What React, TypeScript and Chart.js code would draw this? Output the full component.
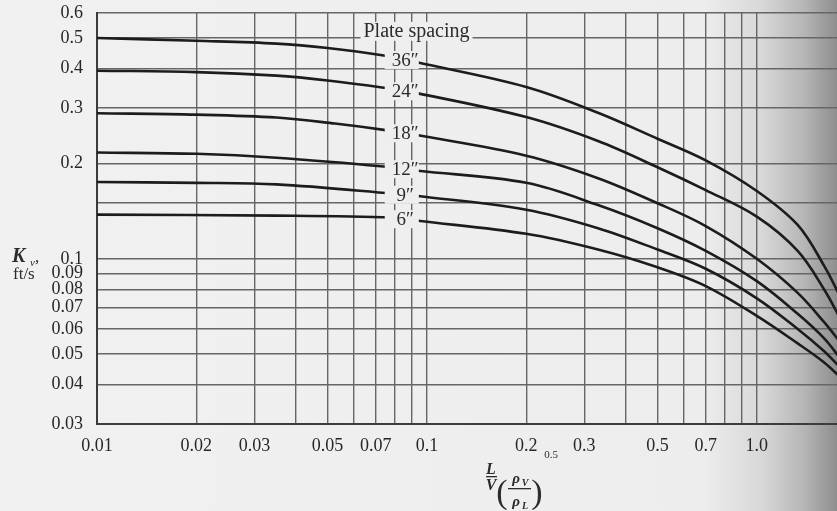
import React, { useEffect, useRef } from 'react';
import { Chart, registerables } from 'chart.js';

Chart.register(...registerables);

// ---- Axis ticks ----
const xTickValues = [0.01, 0.02, 0.03, 0.04, 0.05, 0.06, 0.07, 0.08, 0.09, 0.1, 0.2, 0.3, 0.4, 0.5, 0.6, 0.7, 0.8, 0.9, 1.0];
const xTickLabels = ['0.01', '0.02', '0.03', '', '0.05', '', '0.07', '', '', '0.1', '0.2', '0.3', '', '0.5', '', '0.7', '', '', '1.0'];
const yTickValues = [0.03, 0.04, 0.05, 0.06, 0.07, 0.08, 0.09, 0.1, 0.15, 0.2, 0.3, 0.4, 0.5, 0.6];
const yTickLabels = ['0.03', '0.04', '0.05', '0.06', '0.07', '0.08', '0.09', '0.1', '', '0.2', '0.3', '0.4', '0.5', '0.6'];

// ---- Curves: flow parameter L/V (rhoV/rhoL)^0.5 vs K_v (ft/s) ----
const spacingLabels = ['36″', '24″', '18″', '12″', '9″', '6″'];

const flow36 = [0.01, 0.02, 0.035, 0.05, 0.074, 0.094, 0.2, 0.33, 0.5, 0.7, 1.0, 1.33, 1.6, 1.8];
const kv36 = [0.50, 0.49, 0.48, 0.465, 0.44, 0.418, 0.35, 0.29, 0.24, 0.205, 0.164, 0.128, 0.095, 0.075];

const flow24 = [0.01, 0.02, 0.035, 0.05, 0.074, 0.094, 0.2, 0.33, 0.5, 0.7, 1.0, 1.33, 1.6, 1.8];
const kv24 = [0.394, 0.39, 0.38, 0.367, 0.348, 0.334, 0.281, 0.236, 0.195, 0.165, 0.136, 0.106, 0.08, 0.064];

const flow18 = [0.01, 0.02, 0.035, 0.0526, 0.074, 0.094, 0.2, 0.33, 0.5, 0.7, 1.0, 1.33, 1.6, 1.8];
const kv18 = [0.289, 0.286, 0.28, 0.268, 0.256, 0.246, 0.212, 0.18, 0.15, 0.127, 0.1, 0.078, 0.063, 0.054];

const flow12 = [0.01, 0.02, 0.035, 0.074, 0.094, 0.2, 0.33, 0.5, 0.7, 1.0, 1.33, 1.6, 1.8];
const kv12 = [0.217, 0.215, 0.209, 0.196, 0.19, 0.174, 0.148, 0.125, 0.106, 0.085, 0.067, 0.056, 0.048];

const flow9 = [0.01, 0.02, 0.035, 0.0785, 0.094, 0.2, 0.33, 0.5, 0.7, 1.0, 1.33, 1.6, 1.8];
const kv9 = [0.175, 0.174, 0.172, 0.161, 0.158, 0.143, 0.125, 0.107, 0.093, 0.075, 0.06, 0.051, 0.045];

const flow6 = [0.01, 0.035, 0.0785, 0.094, 0.2, 0.33, 0.5, 0.7, 1.0, 1.33, 1.6, 1.8];
const kv6 = [0.138, 0.137, 0.135, 0.132, 0.12, 0.107, 0.094, 0.082, 0.066, 0.054, 0.047, 0.042];

const seriesFlow = [flow36, flow24, flow18, flow12, flow9, flow6];
const seriesKv = [kv36, kv24, kv18, kv12, kv9, kv6];

const labelFlow = 0.086;

function kvAt(xs: number[], ks: number[], x: number): number {
  for (let i = 0; i < xs.length - 1; i++) {
    if (x >= xs[i] && x <= xs[i + 1]) {
      const t = (Math.log(x) - Math.log(xs[i])) / (Math.log(xs[i + 1]) - Math.log(xs[i]));
      return Math.exp(Math.log(ks[i]) + t * (Math.log(ks[i + 1]) - Math.log(ks[i])));
    }
  }
  return ks[ks.length - 1];
}

const PAPER = '#efefef';
const SERIF = '"Liberation Serif", "DejaVu Serif", serif';

const backgroundPlugin = {
  id: 'paper',
  beforeDraw(chart: any) {
    const { ctx, width, height } = chart;
    ctx.save();
    const g = ctx.createLinearGradient(0, 0, width, 0);
    g.addColorStop(0, '#f1f1f1');
    g.addColorStop(0.84, '#ededed');
    g.addColorStop(0.91, '#d8d8d8');
    g.addColorStop(0.96, '#b6b6b6');
    g.addColorStop(1, '#8e8e8e');
    ctx.fillStyle = g;
    ctx.fillRect(0, 0, width, height);
    ctx.restore();
  },
};

const annotationPlugin = {
  id: 'annot',
  afterDatasetsDraw(chart: any) {
    const { ctx } = chart;
    const xs = chart.scales.x;
    const ys = chart.scales.y;
    ctx.save();
    // curve labels with gap in the curves
    const gx0 = xs.getPixelForValue(0.0745);
    const gx1 = xs.getPixelForValue(0.0945);
    const lx = xs.getPixelForValue(labelFlow);
    ctx.font = `19px ${SERIF}`;
    ctx.textAlign = 'center';
    ctx.textBaseline = 'middle';
    seriesFlow.forEach((fx, i) => {
      const ky = ys.getPixelForValue(kvAt(fx, seriesKv[i], labelFlow));
      ctx.fillStyle = '#eeeeee';
      ctx.fillRect(gx0, ky - 9, gx1 - gx0, 18);
      ctx.fillStyle = '#2c2c2c';
      ctx.fillText(spacingLabels[i], lx, ky + 1);
    });
    // Plate spacing title
    ctx.font = `20px ${SERIF}`;
    const px = xs.getPixelForValue(0.093);
    const py = ys.getPixelForValue(0.523);
    const w = ctx.measureText('Plate spacing').width;
    ctx.fillStyle = '#eeeeee';
    ctx.fillRect(px - w / 2 - 3, py - 10, w + 6, 19);
    ctx.fillStyle = '#2c2c2c';
    ctx.fillText('Plate spacing', px, py);

    // Y-axis title: K_v, ft/s
    ctx.textAlign = 'left';
    ctx.textBaseline = 'alphabetic';
    ctx.fillStyle = '#2c2c2c';
    ctx.font = `italic bold 20px ${SERIF}`;
    ctx.fillText('K', 12, 262);
    ctx.font = `italic 11px ${SERIF}`;
    ctx.fillText('v', 30, 266);
    ctx.font = `17px ${SERIF}`;
    ctx.fillText(',', 35, 262);
    ctx.fillText('ft/s', 13, 279);

    // X-axis title: L/V (rhoV/rhoL)^0.5
    ctx.textAlign = 'center';
    ctx.font = `italic bold 16px ${SERIF}`;
    ctx.fillText('L', 491, 474);
    ctx.fillRect(486, 476, 11, 1.3);
    ctx.fillText('V', 491, 490);
    ctx.font = `34px ${SERIF}`;
    ctx.fillText('(', 502, 503);
    ctx.fillText(')', 537, 503);
    ctx.font = `italic bold 15px ${SERIF}`;
    ctx.fillText('ρ', 516, 483);
    ctx.fillText('ρ', 516, 506);
    ctx.font = `italic bold 10px ${SERIF}`;
    ctx.fillText('V', 525, 486);
    ctx.fillText('L', 525, 509);
    ctx.fillRect(508, 488, 23, 1.3);
    ctx.font = `11px ${SERIF}`;
    ctx.fillText('0.5', 551, 458);
    ctx.restore();
  },
};

export default function App() {
  const ref = useRef<HTMLCanvasElement | null>(null);

  useEffect(() => {
    document.body.style.margin = '0';
    const canvas = ref.current;
    if (!canvas) return;
    const chart = new Chart(canvas, {
      type: 'line',
      data: {
        datasets: seriesFlow.map((fx, i) => ({
          label: spacingLabels[i],
          data: fx.map((x, j) => ({ x, y: seriesKv[i][j] })),
          borderColor: '#1c1c1c',
          borderWidth: 2.6,
          pointRadius: 0,
          fill: false,
          tension: 0.35,
        })),
      },
      options: {
        animation: false,
        responsive: false,
        devicePixelRatio: 1,
        layout: { padding: { top: 13, left: 0, right: 0, bottom: 0 } },
        plugins: { legend: { display: false }, tooltip: { enabled: false } },
        scales: {
          x: {
            type: 'logarithmic',
            min: 0.01,
            max: 1.75,
            afterBuildTicks: (s: any) => {
              s.ticks = xTickValues.map((v) => ({ value: v }));
            },
            afterFit: (s: any) => {
              s.height = 87;
              s.paddingLeft = 0;
              s.paddingRight = 0;
            },
            ticks: {
              autoSkip: false,
              maxRotation: 0,
              padding: 11,
              color: '#262626',
              font: { family: SERIF, size: 18 },
              callback: (_v: any, i: number) => xTickLabels[i] ?? '',
            },
            grid: { color: '#666666', lineWidth: 1.4, drawTicks: false },
            border: { color: '#3c3c3c', width: 2 },
          },
          y: {
            type: 'logarithmic',
            min: 0.03,
            max: 0.6,
            afterBuildTicks: (s: any) => {
              s.ticks = yTickValues.map((v) => ({ value: v }));
            },
            afterFit: (s: any) => {
              s.width = 97;
              s.paddingTop = 0;
              s.paddingBottom = 0;
            },
            ticks: {
              autoSkip: false,
              padding: 14,
              color: '#262626',
              font: { family: SERIF, size: 18 },
              callback: (_v: any, i: number) => yTickLabels[i] ?? '',
            },
            grid: { color: '#666666', lineWidth: 1.4, drawTicks: false },
            border: { color: '#3c3c3c', width: 2 },
          },
        },
      },
      plugins: [backgroundPlugin, annotationPlugin],
    });
    return () => chart.destroy();
  }, []);

  return (
    <div style={{ width: 837, height: 511, background: PAPER }}>
      <canvas ref={ref} width={837} height={511} />
    </div>
  );
}
